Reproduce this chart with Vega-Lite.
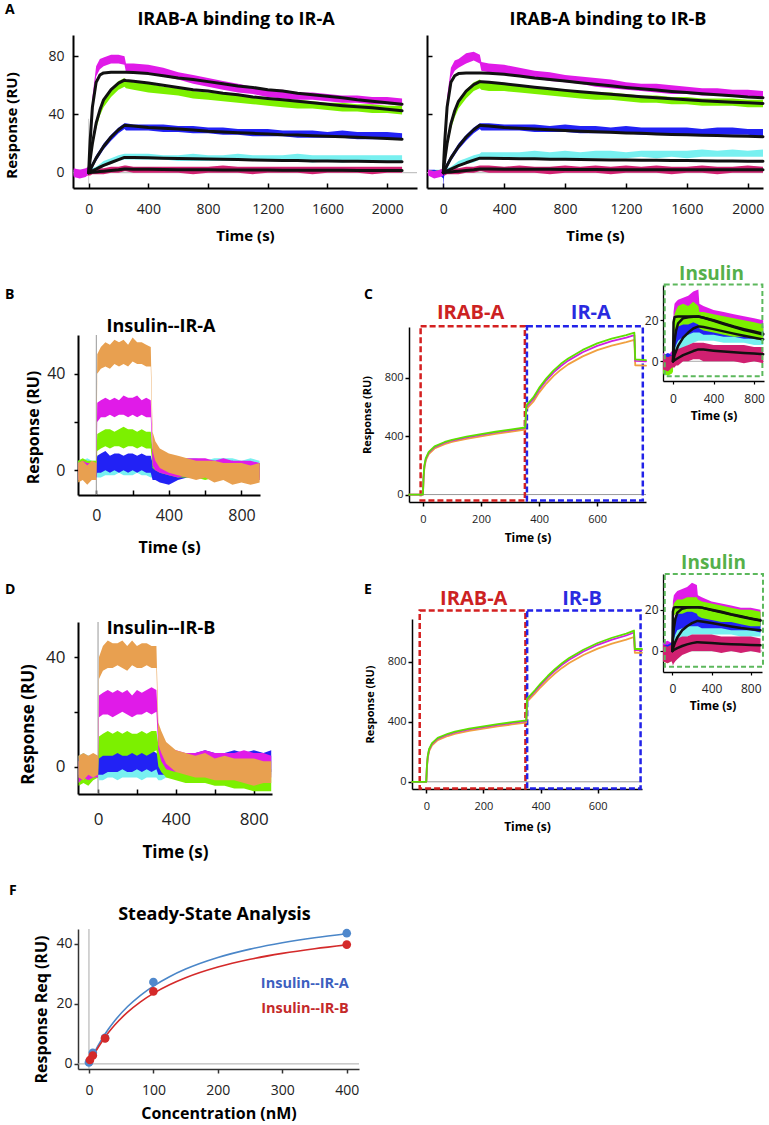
{
"$schema":"https://vega.github.io/schema/vega-lite/v6.json",
"background":"white",
"padding":{"left":4,"top":3,"right":0,"bottom":3},
"config":{
 "view":{"stroke":null},
 "font":"Open Sans",
 "axis":{"grid":false,"domainColor":"#000","tickColor":"#000","labelColor":"#222","titleColor":"#000","titleFontWeight":"bold","labelFont":"Open Sans","titleFont":"Open Sans","labelOverlap":false,"labelFlush":false,"domainWidth":1.5,"tickWidth":1.5},
 "title":{"font":"Open Sans","fontWeight":"bold","color":"#000"},
 "concat":{"spacing":0},
 "line":{"strokeJoin":"round","strokeCap":"round","invalid":"filter"}
},
"datasets":{
"aL":[
{"t":-100,"m0":-3,"m1":3,"g0":-2,"g1":2,"b0":-2,"b1":2,"c0":-2,"c1":2,"r0":-2,"r1":2},
{"t":-60,"m0":-4,"m1":2,"g0":-2,"g1":1,"b0":-2,"b1":1,"c0":-1,"c1":2,"r0":-2,"r1":2},
{"t":-20,"m0":-3,"m1":3,"g0":-2,"g1":2,"b0":-1,"b1":2,"c0":-2,"c1":2,"r0":-2,"r1":1},
{"t":0,"m0":-1,"m1":4,"mf":0,"g0":-1,"g1":2,"gf":0,"b0":-1,"b1":2,"bf":0,"c0":-1,"c1":2,"cf":0,"r0":-2,"r1":2,"rf":0},
{"t":5,"m0":8,"m1":16,"mf":12,"g0":3,"g1":7,"gf":4.5,"b0":0,"b1":3,"bf":1,"c0":-1,"c1":2,"cf":0.3,"r0":-2,"r1":2,"rf":0.05},
{"t":10,"m0":18,"m1":27,"mf":22,"g0":6,"g1":11,"gf":9,"b0":0,"b1":4,"bf":2,"c0":-1,"c1":2,"cf":0.5,"r0":-2,"r1":2,"rf":0.1},
{"t":25,"m0":44,"m1":52,"mf":45,"g0":17,"g1":23,"gf":20,"b0":3,"b1":7,"bf":5,"c0":0,"c1":3,"cf":1.3,"r0":-1,"r1":2,"rf":0.3},
{"t":50,"m0":66,"m1":73,"mf":62,"g0":30,"g1":36,"gf":34,"b0":8,"b1":12,"bf":10,"c0":1,"c1":4,"cf":2.5,"r0":-1,"r1":2,"rf":0.5},
{"t":75,"m0":71,"m1":78,"mf":67,"g0":39,"g1":45,"gf":43,"b0":12,"b1":16,"bf":14,"c0":2,"c1":6,"cf":3.8,"r0":-1,"r1":3,"rf":0.8},
{"t":100,"m0":73,"m1":79,"mf":68.5,"g0":45,"g1":51,"gf":50,"b0":16,"b1":20,"bf":18,"c0":4,"c1":8,"cf":5,"r0":-1,"r1":3,"rf":1},
{"t":150,"m0":75,"m1":81,"mf":69,"g0":52,"g1":58,"gf":57,"b0":22,"b1":26,"bf":24.5,"c0":6,"c1":10,"cf":7,"r0":0,"r1":4,"rf":1.5},
{"t":200,"m0":75,"m1":81,"mf":69,"g0":57,"g1":63,"gf":61.5,"b0":27,"b1":31,"bf":29.5,"c0":8,"c1":12,"cf":9,"r0":0,"r1":4,"rf":2},
{"t":240,"m0":74,"m1":80,"mf":69,"g0":59,"g1":65,"gf":63.5,"b0":30,"b1":34,"bf":32.5,"c0":9,"c1":13,"cf":10.5,"r0":1,"r1":5,"rf":2.5},
{"t":250,"m0":69,"m1":75,"mf":69,"g0":58,"g1":63,"gf":63.3,"b0":29,"b1":34,"bf":32.4,"c0":9,"c1":13,"cf":10.5,"r0":1,"r1":5,"rf":2.5},
{"t":300,"m0":69,"m1":75,"mf":68.7,"g0":57,"g1":62,"gf":62.8,"b0":29,"b1":33,"bf":32,"c0":9,"c1":13,"cf":10.4,"r0":0,"r1":4,"rf":2.4},
{"t":400,"m0":68,"m1":74,"mf":68,"g0":55,"g1":61,"gf":61.5,"b0":29,"b1":33,"bf":31,"c0":9,"c1":13,"cf":10.2,"r0":0,"r1":4,"rf":2.3},
{"t":500,"m0":66,"m1":72,"mf":66.5,"g0":54,"g1":59,"gf":60,"b0":28,"b1":33,"bf":30.5,"c0":9,"c1":12,"cf":10,"r0":0,"r1":4,"rf":2.2},
{"t":600,"m0":64,"m1":69,"mf":65,"g0":53,"g1":58,"gf":58.5,"b0":28,"b1":32,"bf":30,"c0":8,"c1":12,"cf":9.8,"r0":0,"r1":4,"rf":2.1},
{"t":700,"m0":61,"m1":67,"mf":64,"g0":51,"g1":56,"gf":57,"b0":27,"b1":32,"bf":29.3,"c0":8,"c1":13,"cf":9.6,"r0":-1,"r1":4,"rf":2},
{"t":800,"m0":59,"m1":65,"mf":62.5,"g0":50,"g1":55,"gf":56,"b0":27,"b1":31,"bf":28.5,"c0":8,"c1":12,"cf":9.4,"r0":0,"r1":4,"rf":2},
{"t":900,"m0":57,"m1":63,"mf":61,"g0":49,"g1":54,"gf":54.5,"b0":26,"b1":31,"bf":28,"c0":8,"c1":12,"cf":9.2,"r0":0,"r1":5,"rf":1.9},
{"t":1000,"m0":55,"m1":61,"mf":59.5,"g0":48,"g1":53,"gf":53.5,"b0":26,"b1":30,"bf":27.5,"c0":8,"c1":13,"cf":9,"r0":0,"r1":4,"rf":1.9},
{"t":1100,"m0":54,"m1":59,"mf":58.5,"g0":47,"g1":52,"gf":52,"b0":25,"b1":30,"bf":27,"c0":8,"c1":12,"cf":8.8,"r0":-1,"r1":4,"rf":1.8},
{"t":1200,"m0":52,"m1":57,"mf":57,"g0":46,"g1":51,"gf":51,"b0":25,"b1":30,"bf":26.5,"c0":8,"c1":12,"cf":8.6,"r0":0,"r1":4,"rf":1.8},
{"t":1300,"m0":51,"m1":57,"mf":56,"g0":45,"g1":50,"gf":50,"b0":25,"b1":29,"bf":26,"c0":8,"c1":12,"cf":8.4,"r0":0,"r1":4,"rf":1.7},
{"t":1400,"m0":50,"m1":55,"mf":54.5,"g0":44,"g1":50,"gf":49,"b0":24,"b1":29,"bf":25.8,"c0":8,"c1":13,"cf":8.3,"r0":0,"r1":4,"rf":1.7},
{"t":1500,"m0":50,"m1":55,"mf":53.5,"g0":44,"g1":49,"gf":48,"b0":24,"b1":29,"bf":25.4,"c0":7,"c1":12,"cf":8.1,"r0":-1,"r1":4,"rf":1.6},
{"t":1600,"m0":49,"m1":54,"mf":52.5,"g0":43,"g1":48,"gf":47,"b0":24,"b1":28,"bf":25,"c0":8,"c1":12,"cf":8,"r0":0,"r1":4,"rf":1.6},
{"t":1700,"m0":48,"m1":53,"mf":51.5,"g0":42,"g1":48,"gf":46,"b0":24,"b1":29,"bf":24.6,"c0":7,"c1":12,"cf":7.9,"r0":0,"r1":4,"rf":1.6},
{"t":1800,"m0":48,"m1":53,"mf":50,"g0":42,"g1":47,"gf":45.2,"b0":23,"b1":28,"bf":24.3,"c0":8,"c1":12,"cf":7.8,"r0":0,"r1":4,"rf":1.5},
{"t":1900,"m0":47,"m1":52,"mf":49,"g0":41,"g1":47,"gf":44.5,"b0":23,"b1":28,"bf":23.9,"c0":7,"c1":12,"cf":7.7,"r0":-1,"r1":4,"rf":1.5},
{"t":2000,"m0":47,"m1":52,"mf":48,"g0":41,"g1":46,"gf":43.5,"b0":23,"b1":28,"bf":23.5,"c0":8,"c1":12,"cf":7.6,"r0":0,"r1":4,"rf":1.5},
{"t":2100,"m0":46,"m1":51,"mf":47,"g0":40,"g1":46,"gf":42.5,"b0":23,"b1":27,"bf":23,"c0":7,"c1":12,"cf":7.5,"r0":0,"r1":4,"rf":1.5}
],
"aR":[
{"t":-100,"m0":-2,"m1":2,"g0":-2,"g1":2,"b0":-2,"b1":2,"c0":-2,"c1":1,"r0":-2,"r1":2},
{"t":-60,"m0":-4,"m1":1,"g0":-2,"g1":1,"b0":-2,"b1":2,"c0":-1,"c1":2,"r0":-2,"r1":1},
{"t":-20,"m0":-3,"m1":2,"g0":-1,"g1":2,"b0":-2,"b1":1,"c0":-2,"c1":2,"r0":-2,"r1":2},
{"t":0,"m0":-2,"m1":3,"mf":0,"g0":-1,"g1":2,"gf":0,"b0":-4,"b1":1,"bf":0,"c0":-1,"c1":2,"cf":0,"r0":-2,"r1":2,"rf":0},
{"t":2,"m0":2,"m1":8,"mf":5,"g0":0,"g1":4,"gf":1.8,"b0":-11,"b1":-2,"bf":0.4,"c0":-1,"c1":2,"cf":0.1,"r0":-2,"r1":2,"rf":0.02},
{"t":5,"m0":8,"m1":16,"mf":12,"g0":3,"g1":7,"gf":4.5,"b0":-3,"b1":3,"bf":1,"c0":-1,"c1":2,"cf":0.3,"r0":-2,"r1":2,"rf":0.05},
{"t":10,"m0":18,"m1":27,"mf":22,"g0":6,"g1":11,"gf":9,"b0":0,"b1":4,"bf":2,"c0":-1,"c1":2,"cf":0.5,"r0":-2,"r1":2,"rf":0.1},
{"t":25,"m0":44,"m1":52,"mf":45,"g0":17,"g1":23,"gf":20,"b0":3,"b1":7,"bf":5,"c0":0,"c1":3,"cf":1.3,"r0":-1,"r1":2,"rf":0.3},
{"t":50,"m0":65,"m1":72,"mf":62,"g0":30,"g1":36,"gf":33.5,"b0":8,"b1":12,"bf":10,"c0":1,"c1":4,"cf":2.5,"r0":-1,"r1":2,"rf":0.5},
{"t":75,"m0":70,"m1":77,"mf":66.5,"g0":38,"g1":44,"gf":42.5,"b0":12,"b1":16,"bf":14,"c0":2,"c1":6,"cf":3.7,"r0":-1,"r1":3,"rf":0.8},
{"t":100,"m0":72,"m1":78,"mf":68,"g0":44,"g1":50,"gf":49,"b0":16,"b1":20,"bf":18,"c0":4,"c1":8,"cf":4.8,"r0":-1,"r1":3,"rf":1},
{"t":150,"m0":75,"m1":82,"mf":68.5,"g0":51,"g1":57,"gf":56,"b0":22,"b1":26,"bf":24.5,"c0":6,"c1":10,"cf":6.8,"r0":0,"r1":4,"rf":1.5},
{"t":200,"m0":77,"m1":83,"mf":68.5,"g0":56,"g1":62,"gf":60.5,"b0":27,"b1":31,"bf":29.5,"c0":7,"c1":12,"cf":8.6,"r0":0,"r1":4,"rf":2},
{"t":240,"m0":75,"m1":81,"mf":68.5,"g0":58,"g1":64,"gf":62.5,"b0":30,"b1":34,"bf":32.5,"c0":9,"c1":13,"cf":10,"r0":1,"r1":5,"rf":2.5},
{"t":250,"m0":70,"m1":76,"mf":68.5,"g0":57,"g1":63,"gf":62.4,"b0":29,"b1":34,"bf":32.4,"c0":9,"c1":14,"cf":10,"r0":1,"r1":5,"rf":2.5},
{"t":300,"m0":69,"m1":75,"mf":68.3,"g0":56,"g1":62,"gf":62,"b0":29,"b1":34,"bf":32,"c0":9,"c1":14,"cf":9.9,"r0":0,"r1":5,"rf":2.5},
{"t":400,"m0":68,"m1":74,"mf":67.5,"g0":56,"g1":61,"gf":61,"b0":29,"b1":33,"bf":31,"c0":10,"c1":14,"cf":9.8,"r0":0,"r1":4,"rf":2.4},
{"t":500,"m0":66,"m1":72,"mf":66.3,"g0":55,"g1":60,"gf":59.8,"b0":29,"b1":33,"bf":30.5,"c0":10,"c1":14,"cf":9.6,"r0":0,"r1":5,"rf":2.4},
{"t":600,"m0":65,"m1":70,"mf":65,"g0":54,"g1":59,"gf":58.7,"b0":28,"b1":33,"bf":30,"c0":9,"c1":15,"cf":9.5,"r0":0,"r1":4,"rf":2.3},
{"t":700,"m0":63,"m1":69,"mf":64,"g0":53,"g1":58,"gf":57.6,"b0":28,"b1":32,"bf":29.5,"c0":10,"c1":14,"cf":9.3,"r0":-1,"r1":4,"rf":2.3},
{"t":800,"m0":62,"m1":67,"mf":63,"g0":52,"g1":57,"gf":56.5,"b0":28,"b1":33,"bf":29,"c0":10,"c1":15,"cf":9.2,"r0":0,"r1":5,"rf":2.2},
{"t":900,"m0":61,"m1":66,"mf":61.8,"g0":51,"g1":56,"gf":55.6,"b0":27,"b1":32,"bf":28.5,"c0":10,"c1":14,"cf":9.1,"r0":0,"r1":4,"rf":2.2},
{"t":1000,"m0":59,"m1":65,"mf":60.7,"g0":50,"g1":55,"gf":54.7,"b0":27,"b1":32,"bf":28.1,"c0":10,"c1":15,"cf":8.9,"r0":0,"r1":5,"rf":2.2},
{"t":1100,"m0":58,"m1":64,"mf":59.6,"g0":50,"g1":55,"gf":53.8,"b0":27,"b1":31,"bf":27.7,"c0":10,"c1":15,"cf":8.8,"r0":-1,"r1":4,"rf":2.1},
{"t":1200,"m0":57,"m1":62,"mf":58.5,"g0":49,"g1":54,"gf":53,"b0":27,"b1":32,"bf":27.3,"c0":10,"c1":14,"cf":8.7,"r0":0,"r1":5,"rf":2.1},
{"t":1300,"m0":56,"m1":61,"mf":57.6,"g0":48,"g1":53,"gf":52.2,"b0":26,"b1":31,"bf":27,"c0":11,"c1":15,"cf":8.6,"r0":0,"r1":4,"rf":2.1},
{"t":1400,"m0":55,"m1":61,"mf":56.7,"g0":48,"g1":53,"gf":51.4,"b0":26,"b1":31,"bf":26.6,"c0":10,"c1":15,"cf":8.5,"r0":0,"r1":5,"rf":2.1},
{"t":1500,"m0":54,"m1":60,"mf":55.8,"g0":47,"g1":52,"gf":50.7,"b0":26,"b1":31,"bf":26.3,"c0":11,"c1":15,"cf":8.4,"r0":-1,"r1":4,"rf":2.1},
{"t":1600,"m0":54,"m1":59,"mf":55,"g0":47,"g1":52,"gf":50,"b0":26,"b1":31,"bf":26,"c0":10,"c1":15,"cf":8.3,"r0":0,"r1":4,"rf":2},
{"t":1700,"m0":53,"m1":58,"mf":54.2,"g0":46,"g1":51,"gf":49.4,"b0":26,"b1":30,"bf":25.7,"c0":11,"c1":16,"cf":8.2,"r0":0,"r1":5,"rf":2},
{"t":1800,"m0":53,"m1":58,"mf":53.5,"g0":46,"g1":51,"gf":48.9,"b0":26,"b1":31,"bf":25.5,"c0":11,"c1":15,"cf":8.1,"r0":-1,"r1":4,"rf":2},
{"t":1900,"m0":52,"m1":57,"mf":52.8,"g0":46,"g1":51,"gf":48.4,"b0":26,"b1":31,"bf":25.2,"c0":11,"c1":16,"cf":8,"r0":0,"r1":4,"rf":2},
{"t":2000,"m0":52,"m1":57,"mf":52,"g0":45,"g1":50,"gf":48,"b0":26,"b1":30,"bf":25,"c0":11,"c1":15,"cf":7.9,"r0":0,"r1":5,"rf":2},
{"t":2100,"m0":51,"m1":56,"mf":51.5,"g0":45,"g1":50,"gf":47.5,"b0":25,"b1":30,"bf":24.7,"c0":11,"c1":16,"cf":7.8,"r0":0,"r1":4,"rf":2}
],
"bA":[
{"t":-100,"o0":-5,"o1":3,"m0":-4,"m1":3,"g0":-3,"g1":4,"b0":-4,"b1":3,"c0":-3,"c1":4},
{"t":-75,"o0":-4,"o1":4,"m0":-3,"m1":4,"g0":-2,"g1":5,"b0":-3,"b1":3,"c0":-2,"c1":4},
{"t":-50,"o0":-6,"o1":2,"m0":-4,"m1":3,"g0":-2,"g1":4,"b0":-4,"b1":2,"c0":-2,"c1":5},
{"t":-25,"o0":-4,"o1":4,"m0":-3,"m1":3,"g0":-3,"g1":4,"b0":-3,"b1":3,"c0":-3,"c1":4},
{"t":0,"o0":-4,"o1":3,"m0":-3,"m1":3,"g0":-2,"g1":4,"b0":-3,"b1":3,"c0":-2,"c1":4},
{"t":5,"o0":40,"o1":48,"m0":20,"m1":28,"g0":8,"g1":15,"b0":-1,"b1":6,"c0":-3,"c1":3},
{"t":25,"o0":42,"o1":51,"m0":22,"m1":29,"g0":9,"g1":16,"b0":-1,"b1":7,"c0":-3,"c1":4},
{"t":50,"o0":43,"o1":53,"m0":22,"m1":30,"g0":10,"g1":17,"b0":0,"b1":8,"c0":-2,"c1":4},
{"t":75,"o0":42,"o1":52,"m0":23,"m1":29,"g0":9,"g1":17,"b0":-1,"b1":6,"c0":-2,"c1":5},
{"t":100,"o0":44,"o1":54,"m0":22,"m1":30,"g0":10,"g1":16,"b0":0,"b1":7,"c0":-2,"c1":4},
{"t":125,"o0":43,"o1":53,"m0":23,"m1":29,"g0":10,"g1":17,"b0":-1,"b1":7,"c0":-1,"c1":5},
{"t":150,"o0":44,"o1":54,"m0":23,"m1":31,"g0":9,"g1":18,"b0":0,"b1":6,"c0":-2,"c1":4},
{"t":175,"o0":43,"o1":52,"m0":22,"m1":30,"g0":10,"g1":17,"b0":-1,"b1":7,"c0":-2,"c1":5},
{"t":200,"o0":45,"o1":55,"m0":23,"m1":30,"g0":10,"g1":17,"b0":0,"b1":7,"c0":-2,"c1":4},
{"t":225,"o0":44,"o1":53,"m0":22,"m1":31,"g0":9,"g1":16,"b0":-1,"b1":6,"c0":-1,"c1":5},
{"t":250,"o0":44,"o1":53,"m0":23,"m1":29,"g0":10,"g1":17,"b0":0,"b1":7,"c0":-2,"c1":4},
{"t":275,"o0":43,"o1":52,"m0":22,"m1":30,"g0":9,"g1":16,"b0":-1,"b1":6,"c0":-2,"c1":4},
{"t":300,"o0":43,"o1":51,"m0":22,"m1":29,"g0":9,"g1":16,"b0":-1,"b1":6,"c0":-3,"c1":4},
{"t":310,"o0":8,"o1":16,"m0":2,"m1":9,"g0":1,"g1":8,"b0":-4,"b1":3,"c0":-3,"c1":4},
{"t":325,"o0":4,"o1":12,"m0":0,"m1":7,"g0":0,"g1":7,"b0":-4,"b1":3,"c0":-3,"c1":4},
{"t":350,"o0":1,"o1":9,"m0":-1,"m1":6,"g0":-1,"g1":6,"b0":-5,"b1":2,"c0":-2,"c1":5},
{"t":400,"o0":-1,"o1":7,"m0":-2,"m1":5,"g0":-2,"g1":5,"b0":-6,"b1":2,"c0":-2,"c1":5},
{"t":450,"o0":-2,"o1":6,"m0":-3,"m1":5,"g0":-3,"g1":4,"b0":-4,"b1":3,"c0":-1,"c1":5},
{"t":500,"o0":-3,"o1":5,"m0":-2,"m1":5,"g0":-3,"g1":4,"b0":-3,"b1":4,"c0":-2,"c1":5},
{"t":550,"o0":-4,"o1":4,"m0":-3,"m1":5,"g0":-3,"g1":4,"b0":-3,"b1":3,"c0":-2,"c1":5},
{"t":600,"o0":-3,"o1":4,"m0":-2,"m1":5,"g0":-4,"g1":4,"b0":-3,"b1":4,"c0":-2,"c1":4},
{"t":650,"o0":-5,"o1":4,"m0":-3,"m1":4,"g0":-3,"g1":3,"b0":-3,"b1":4,"c0":-2,"c1":5},
{"t":700,"o0":-4,"o1":3,"m0":-2,"m1":5,"g0":-4,"g1":3,"b0":-4,"b1":3,"c0":-2,"c1":5},
{"t":750,"o0":-6,"o1":3,"m0":-3,"m1":4,"g0":-4,"g1":3,"b0":-3,"b1":4,"c0":-1,"c1":5},
{"t":800,"o0":-5,"o1":3,"m0":-3,"m1":4,"g0":-4,"g1":3,"b0":-4,"b1":3,"c0":-2,"c1":4},
{"t":850,"o0":-6,"o1":2,"m0":-3,"m1":4,"g0":-4,"g1":3,"b0":-3,"b1":3,"c0":-2,"c1":5},
{"t":900,"o0":-5,"o1":3,"m0":-4,"m1":3,"g0":-4,"g1":3,"b0":-3,"b1":3,"c0":-2,"c1":4}
],
"dB":[
{"t":-100,"o0":-4,"o1":4,"m0":-6,"m1":2,"g0":-7,"g1":2,"b0":-4,"b1":3,"c0":-3,"c1":4},
{"t":-75,"o0":-5,"o1":5,"m0":-4,"m1":3,"g0":-6,"g1":2,"b0":-3,"b1":3,"c0":-3,"c1":5},
{"t":-50,"o0":-3,"o1":4,"m0":-5,"m1":3,"g0":-7,"g1":1,"b0":-4,"b1":4,"c0":-2,"c1":4},
{"t":-25,"o0":-4,"o1":5,"m0":-4,"m1":3,"g0":-5,"g1":2,"b0":-3,"b1":3,"c0":-3,"c1":4},
{"t":0,"o0":-3,"o1":4,"m0":-4,"m1":3,"g0":-4,"g1":3,"b0":-3,"b1":3,"c0":-3,"c1":4},
{"t":5,"o0":32,"o1":40,"m0":18,"m1":26,"g0":3,"g1":11,"b0":-3,"b1":4,"c0":-5,"c1":1},
{"t":25,"o0":35,"o1":44,"m0":19,"m1":27,"g0":4,"g1":12,"b0":-3,"b1":5,"c0":-5,"c1":2},
{"t":50,"o0":36,"o1":46,"m0":19,"m1":28,"g0":4,"g1":13,"b0":-2,"b1":5,"c0":-4,"c1":2},
{"t":75,"o0":36,"o1":45,"m0":18,"m1":27,"g0":4,"g1":12,"b0":-2,"b1":6,"c0":-4,"c1":2},
{"t":100,"o0":37,"o1":45,"m0":19,"m1":28,"g0":5,"g1":13,"b0":-2,"b1":6,"c0":-5,"c1":1},
{"t":125,"o0":36,"o1":46,"m0":20,"m1":27,"g0":4,"g1":12,"b0":-1,"b1":5,"c0":-4,"c1":2},
{"t":150,"o0":35,"o1":44,"m0":19,"m1":28,"g0":4,"g1":13,"b0":-2,"b1":6,"c0":-4,"c1":2},
{"t":175,"o0":37,"o1":46,"m0":18,"m1":26,"g0":5,"g1":12,"b0":-2,"b1":5,"c0":-4,"c1":1},
{"t":200,"o0":36,"o1":44,"m0":19,"m1":28,"g0":4,"g1":12,"b0":-1,"b1":6,"c0":-4,"c1":2},
{"t":225,"o0":36,"o1":45,"m0":19,"m1":27,"g0":5,"g1":13,"b0":-2,"b1":6,"c0":-5,"c1":2},
{"t":250,"o0":37,"o1":45,"m0":20,"m1":28,"g0":4,"g1":12,"b0":-1,"b1":5,"c0":-4,"c1":2},
{"t":275,"o0":36,"o1":44,"m0":19,"m1":29,"g0":5,"g1":13,"b0":-2,"b1":6,"c0":-4,"c1":2},
{"t":300,"o0":36,"o1":44,"m0":20,"m1":28,"g0":6,"g1":13,"b0":-1,"b1":5,"c0":-4,"c1":2},
{"t":310,"o0":8,"o1":16,"m0":6,"m1":14,"g0":0,"g1":8,"b0":-3,"b1":4,"c0":-5,"c1":2},
{"t":325,"o0":5,"o1":13,"m0":2,"m1":10,"g0":-2,"g1":6,"b0":-3,"b1":4,"c0":-5,"c1":2},
{"t":350,"o0":1,"o1":9,"m0":-1,"m1":7,"g0":-4,"g1":4,"b0":-3,"b1":4,"c0":-4,"c1":3},
{"t":400,"o0":-2,"o1":6,"m0":-2,"m1":6,"g0":-5,"g1":3,"b0":-3,"b1":5,"c0":-3,"c1":4},
{"t":450,"o0":-3,"o1":5,"m0":-2,"m1":5,"g0":-6,"g1":2,"b0":-2,"b1":5,"c0":-3,"c1":4},
{"t":500,"o0":-4,"o1":4,"m0":-3,"m1":5,"g0":-6,"g1":2,"b0":-2,"b1":5,"c0":-3,"c1":4},
{"t":550,"o0":-4,"o1":5,"m0":-2,"m1":6,"g0":-6,"g1":1,"b0":-2,"b1":6,"c0":-3,"c1":4},
{"t":600,"o0":-5,"o1":3,"m0":-3,"m1":5,"g0":-7,"g1":1,"b0":-3,"b1":5,"c0":-2,"c1":5},
{"t":650,"o0":-5,"o1":4,"m0":-3,"m1":5,"g0":-7,"g1":0,"b0":-2,"b1":5,"c0":-3,"c1":4},
{"t":700,"o0":-5,"o1":3,"m0":-3,"m1":5,"g0":-8,"g1":0,"b0":-2,"b1":6,"c0":-2,"c1":5},
{"t":750,"o0":-6,"o1":3,"m0":-3,"m1":6,"g0":-8,"g1":-1,"b0":-2,"b1":5,"c0":-3,"c1":4},
{"t":800,"o0":-7,"o1":3,"m0":-2,"m1":5,"g0":-9,"g1":-1,"b0":-2,"b1":6,"c0":-2,"c1":5},
{"t":850,"o0":-6,"o1":2,"m0":-3,"m1":5,"g0":-9,"g1":-2,"b0":-2,"b1":5,"c0":-3,"c1":4},
{"t":890,"o0":-6,"o1":2,"m0":-4,"m1":4,"g0":-9,"g1":-1,"b0":-2,"b1":6,"c0":-3,"c1":4}
],
"cM":[
{"t":-48,"g":0,"m":0,"o":0},{"t":0,"g":0,"m":0,"o":0},{"t":2,"g":120,"m":115,"o":105},{"t":5,"g":200,"m":195,"o":185},{"t":10,"g":250,"m":245,"o":235},{"t":20,"g":292,"m":287,"o":277},{"t":40,"g":330,"m":325,"o":315},{"t":75,"g":360,"m":355,"o":345},{"t":100,"g":375,"m":370,"o":360},{"t":150,"g":396,"m":391,"o":381},{"t":200,"g":414,"m":409,"o":399},{"t":250,"g":430,"m":425,"o":415},{"t":300,"g":445,"m":440,"o":430},{"t":352,"g":459,"m":454,"o":444},{"t":356,"g":610,"m":600,"o":585},{"t":380,"g":665,"m":654,"o":636},{"t":400,"g":730,"m":718,"o":698},{"t":425,"g":795,"m":782,"o":760},{"t":450,"g":850,"m":836,"o":812},{"t":475,"g":895,"m":880,"o":855},{"t":500,"g":932,"m":917,"o":891},{"t":550,"g":990,"m":974,"o":946},{"t":600,"g":1035,"m":1018,"o":989},{"t":650,"g":1067,"m":1050,"o":1020},{"t":700,"g":1092,"m":1075,"o":1044},{"t":728,"g":1108,"m":1091,"o":1059},{"t":731,"g":925,"m":915,"o":885},{"t":768,"g":920,"m":912,"o":882}
],
"eM":[
{"t":-50,"g":0,"m":0,"o":0},{"t":0,"g":0,"m":0,"o":0},{"t":2,"g":100,"m":95,"o":88},{"t":5,"g":170,"m":165,"o":155},{"t":10,"g":220,"m":215,"o":205},{"t":20,"g":258,"m":253,"o":243},{"t":40,"g":293,"m":288,"o":278},{"t":75,"g":320,"m":315,"o":305},{"t":100,"g":334,"m":329,"o":319},{"t":150,"g":354,"m":349,"o":339},{"t":200,"g":370,"m":365,"o":355},{"t":250,"g":384,"m":379,"o":369},{"t":300,"g":397,"m":392,"o":382},{"t":350,"g":410,"m":405,"o":395},{"t":353,"g":555,"m":548,"o":535},{"t":380,"g":610,"m":602,"o":588},{"t":400,"g":655,"m":646,"o":630},{"t":425,"g":705,"m":696,"o":678},{"t":450,"g":750,"m":740,"o":721},{"t":475,"g":790,"m":780,"o":759},{"t":500,"g":825,"m":814,"o":792},{"t":550,"g":880,"m":868,"o":845},{"t":600,"g":925,"m":913,"o":888},{"t":650,"g":960,"m":947,"o":921},{"t":700,"g":988,"m":975,"o":948},{"t":727,"g":1008,"m":995,"o":965},{"t":730,"g":885,"m":878,"o":860},{"t":755,"g":885,"m":878,"o":860}
],
"cI":[
{"t":-99,"m0":-4,"m1":4,"g0":-6,"g1":0,"b0":-3,"b1":3,"c0":-3,"c1":2,"r0":-4,"r1":3},
{"t":-50,"m0":-5,"m1":3,"g0":-7,"g1":-1,"b0":-3,"b1":4,"c0":-2,"c1":3,"r0":-5,"r1":2},
{"t":-10,"m0":-3,"m1":5,"g0":-6,"g1":1,"b0":-2,"b1":3,"c0":-3,"c1":3,"r0":-3,"r1":3},
{"t":0,"m0":-2,"m1":6,"g0":-5,"g1":2,"b0":-2,"b1":4,"c0":-2,"c1":3,"r0":-3,"r1":3,"f1":0,"f2":0,"f3":0,"f4":0},
{"t":5,"m0":15,"m1":24,"g0":10,"g1":19,"b0":2,"b1":10,"c0":0,"c1":5,"r0":-3,"r1":4,"f1":19,"f2":4,"f3":1,"f4":0.2},
{"t":15,"m0":19,"m1":28,"g0":14,"g1":23,"b0":6,"b1":14,"c0":1,"c1":7,"r0":-3,"r1":5,"f1":21.5,"f2":10,"f3":3,"f4":0.5},
{"t":30,"m0":20,"m1":29,"g0":16,"g1":25,"b0":8,"b1":17,"c0":2,"c1":9,"r0":-2,"r1":5,"f1":21.7,"f2":15,"f3":5,"f4":1},
{"t":50,"m0":20,"m1":30,"g0":17,"g1":27,"b0":10,"b1":19,"c0":3,"c1":11,"r0":-2,"r1":6,"f1":21.8,"f2":18.5,"f3":7.5,"f4":1.6},
{"t":100,"m0":21,"m1":31,"g0":18,"g1":28,"b0":12,"b1":21,"c0":6,"c1":14,"r0":0,"r1":7,"f1":21.8,"f2":21,"f3":11.5,"f4":3},
{"t":150,"m0":22,"m1":32,"g0":18,"g1":27,"b0":13,"b1":22,"c0":8,"c1":15,"r0":0,"r1":8,"f1":21.8,"f2":21.5,"f3":14,"f4":4},
{"t":200,"m0":23,"m1":34,"g0":19,"g1":29,"b0":14,"b1":22,"c0":9,"c1":16,"r0":1,"r1":9,"f1":21.8,"f2":21.7,"f3":16,"f4":5},
{"t":250,"m0":24,"m1":35,"g0":18,"g1":27,"b0":14,"b1":21,"c0":10,"c1":17,"r0":1,"r1":9,"f1":21.8,"f2":21.8,"f3":17,"f4":5.8},
{"t":260,"m0":19,"m1":28,"g0":16,"g1":24,"b0":14,"b1":21,"c0":10,"c1":17,"r0":1,"r1":9,"f1":21.7,"f2":21.7,"f3":17,"f4":5.8},
{"t":300,"m0":18,"m1":27,"g0":15,"g1":24,"b0":13,"b1":21,"c0":10,"c1":17,"r0":0,"r1":9,"f1":21.3,"f2":21.2,"f3":16.7,"f4":5.7},
{"t":400,"m0":17,"m1":25,"g0":14,"g1":23,"b0":13,"b1":20,"c0":10,"c1":16,"r0":0,"r1":8,"f1":20,"f2":19.8,"f3":15.7,"f4":5.2},
{"t":500,"m0":16,"m1":24,"g0":13,"g1":22,"b0":12,"b1":20,"c0":9,"c1":16,"r0":0,"r1":8,"f1":18.5,"f2":18.2,"f3":14.6,"f4":4.8},
{"t":600,"m0":15,"m1":23,"g0":12,"g1":21,"b0":12,"b1":19,"c0":9,"c1":16,"r0":0,"r1":8,"f1":17,"f2":16.7,"f3":13.5,"f4":4.4},
{"t":700,"m0":14,"m1":22,"g0":12,"g1":20,"b0":11,"b1":18,"c0":9,"c1":15,"r0":-1,"r1":8,"f1":15.7,"f2":15.3,"f3":12.5,"f4":4.1},
{"t":800,"m0":13,"m1":21,"g0":11,"g1":19,"b0":11,"b1":18,"c0":8,"c1":15,"r0":0,"r1":7,"f1":14.5,"f2":14.1,"f3":11.5,"f4":3.8},
{"t":890,"m0":12,"m1":20,"g0":10,"g1":18,"b0":10,"b1":17,"c0":8,"c1":14,"r0":-1,"r1":7,"f1":13.5,"f2":13.1,"f3":10.7,"f4":3.5}
],
"eI":[
{"t":-96,"m0":-4,"m1":4,"g0":-5,"g1":1,"b0":-4,"b1":3,"c0":-3,"c1":2,"r0":-5,"r1":3},
{"t":-50,"m0":-3,"m1":5,"g0":-6,"g1":0,"b0":-3,"b1":3,"c0":-3,"c1":3,"r0":-6,"r1":2},
{"t":-10,"m0":-4,"m1":4,"g0":-5,"g1":2,"b0":-3,"b1":4,"c0":-2,"c1":3,"r0":-5,"r1":3},
{"t":0,"m0":-3,"m1":5,"g0":-4,"g1":2,"b0":-3,"b1":3,"c0":-3,"c1":3,"r0":-6,"r1":2,"f1":0,"f2":0,"f3":0,"f4":0},
{"t":5,"m0":14,"m1":24,"g0":14,"g1":21,"b0":2,"b1":11,"c0":-1,"c1":5,"r0":-7,"r1":3,"f1":19,"f2":5,"f3":1,"f4":0.2},
{"t":15,"m0":17,"m1":27,"g0":17,"g1":23,"b0":6,"b1":15,"c0":0,"c1":7,"r0":-6,"r1":4,"f1":21,"f2":11,"f3":2.5,"f4":0.5},
{"t":30,"m0":18,"m1":28,"g0":18,"g1":24,"b0":8,"b1":17,"c0":1,"c1":9,"r0":-5,"r1":5,"f1":21.2,"f2":15.5,"f3":4.5,"f4":0.9},
{"t":50,"m0":18,"m1":29,"g0":18,"g1":25,"b0":10,"b1":19,"c0":3,"c1":11,"r0":-4,"r1":6,"f1":21.2,"f2":18.5,"f3":6.5,"f4":1.4},
{"t":100,"m0":19,"m1":30,"g0":18,"g1":25,"b0":11,"b1":20,"c0":5,"c1":13,"r0":-2,"r1":7,"f1":21.2,"f2":20.5,"f3":10,"f4":2.4},
{"t":150,"m0":20,"m1":31,"g0":19,"g1":26,"b0":12,"b1":20,"c0":7,"c1":14,"r0":-1,"r1":7,"f1":21.2,"f2":21,"f3":12,"f4":3.2},
{"t":200,"m0":21,"m1":33,"g0":19,"g1":26,"b0":12,"b1":21,"c0":8,"c1":15,"r0":0,"r1":8,"f1":21.2,"f2":21.2,"f3":13.5,"f4":3.8},
{"t":250,"m0":20,"m1":32,"g0":18,"g1":26,"b0":12,"b1":20,"c0":8,"c1":16,"r0":0,"r1":8,"f1":21.2,"f2":21.2,"f3":14.5,"f4":4.2},
{"t":260,"m0":17,"m1":27,"g0":17,"g1":25,"b0":12,"b1":19,"c0":8,"c1":15,"r0":0,"r1":8,"f1":21.2,"f2":21.2,"f3":14.5,"f4":4.2},
{"t":300,"m0":16,"m1":26,"g0":16,"g1":24,"b0":11,"b1":19,"c0":8,"c1":15,"r0":0,"r1":8,"f1":21,"f2":21,"f3":14.3,"f4":4.1},
{"t":400,"m0":15,"m1":24,"g0":15,"g1":23,"b0":11,"b1":18,"c0":8,"c1":15,"r0":0,"r1":8,"f1":20,"f2":19.8,"f3":13.5,"f4":3.8},
{"t":500,"m0":14,"m1":23,"g0":14,"g1":22,"b0":11,"b1":18,"c0":8,"c1":14,"r0":-1,"r1":7,"f1":19,"f2":18.8,"f3":12.7,"f4":3.5},
{"t":600,"m0":13,"m1":22,"g0":14,"g1":21,"b0":10,"b1":17,"c0":8,"c1":14,"r0":0,"r1":7,"f1":17.8,"f2":17.6,"f3":11.9,"f4":3.3},
{"t":700,"m0":13,"m1":21,"g0":13,"g1":20,"b0":10,"b1":17,"c0":7,"c1":14,"r0":-1,"r1":7,"f1":16.8,"f2":16.6,"f3":11.1,"f4":3.1},
{"t":800,"m0":12,"m1":21,"g0":12,"g1":20,"b0":10,"b1":16,"c0":7,"c1":13,"r0":0,"r1":7,"f1":15.8,"f2":15.6,"f3":10.5,"f4":2.9},
{"t":900,"m0":12,"m1":20,"g0":12,"g1":19,"b0":9,"b1":16,"c0":7,"c1":13,"r0":-1,"r1":6,"f1":14.9,"f2":14.7,"f3":10,"f4":2.8}
],
"fP":[
{"c":0,"r":0.5,"s":"A"},{"c":6,"r":3.7,"s":"A"},{"c":25,"r":8.7,"s":"A"},{"c":100,"r":27.3,"s":"A"},{"c":400,"r":43.6,"s":"A"},
{"c":1.5,"r":1.3,"s":"B"},{"c":6,"r":2.8,"s":"B"},{"c":25,"r":8.5,"s":"B"},{"c":100,"r":24.2,"s":"B"},{"c":400,"r":39.8,"s":"B"}
],
"fF":[
{"c":0,"ra":0,"rb":0},{"c":5,"ra":2.32,"rb":2.08},{"c":10,"ra":4.46,"rb":3.99},{"c":20,"ra":8.26,"rb":7.41},{"c":30,"ra":11.54,"rb":10.37},{"c":40,"ra":14.4,"rb":12.96},{"c":60,"ra":19.13,"rb":17.26},{"c":80,"ra":22.9,"rb":20.7},{"c":100,"ra":25.97,"rb":23.52},{"c":125,"ra":29.09,"rb":26.38},{"c":150,"ra":31.63,"rb":28.72},{"c":200,"ra":35.49,"rb":32.29},{"c":250,"ra":38.29,"rb":34.89},{"c":300,"ra":40.42,"rb":36.87},{"c":350,"ra":42.1,"rb":38.43},{"c":400,"ra":43.44,"rb":39.69}
]
},
"bounds":"flush",
"spacing":0,
"vconcat":[
{"hconcat":[
 {"width":344,"height":153,
  "title":{"text":"IRAB-A binding to IR-A","fontSize":18,"frame":"group","dx":-9,"offset":6},
  "data":{"name":"aL"},
  "layer":[
   {"data":{"values":[{}]},"mark":{"type":"rule","color":"#b5b5b5","strokeWidth":1},"encoding":{"y":{"datum":0,"type":"quantitative","scale":{"domain":[-10.5,94.5],"nice":false,"zero":false},"title":"Response (RU)"}}},
   {"data":{"values":[{}]},"mark":{"type":"rule","color":"#cccccc","strokeWidth":1},"encoding":{"x":{"datum":0,"type":"quantitative","scale":{"domain":[-105,2200],"nice":false,"zero":false},"title":"Time (s)"},"y":{"datum":-8,"type":"quantitative","scale":{"domain":[-10.5,94.5],"nice":false,"zero":false},"title":"Response (RU)"},"y2":{"datum":37}}},
   {"mark":{"type":"area","color":"#78f0f0"},"encoding":{"x":{"field":"t","type":"quantitative","scale":{"domain":[-105,2200],"nice":false,"zero":false},"title":"Time (s)","axis":{"values":[0,200,400,600,800,1000,1200,1400,1600,1800,2000],"labelExpr":"datum.value % 400 === 0 ? datum.label : ''","format":"d","labelFontSize":14,"titleFontSize":15,"tickSize":-5,"domainWidth":2,"labelPadding":19,"titlePadding":12}},"y":{"field":"c0","type":"quantitative","scale":{"domain":[-10.5,94.5],"nice":false,"zero":false},"title":"Response (RU)","axis":{"values":[0,20,40,60,80],"labelExpr":"datum.value % 40 === 0 ? datum.label : ''","labelFontSize":14,"titleFontSize":15,"tickSize":-5,"domainWidth":2,"labelPadding":14,"titlePadding":28,"titleY":90}},"y2":{"field":"c1"}}},
   {"mark":{"type":"area","color":"#d02070"},"encoding":{"x":{"field":"t","type":"quantitative","scale":{"domain":[-105,2200],"nice":false,"zero":false},"title":"Time (s)"},"y":{"field":"r0","type":"quantitative","scale":{"domain":[-10.5,94.5],"nice":false,"zero":false},"title":"Response (RU)"},"y2":{"field":"r1"}}},
   {"mark":{"type":"area","color":"#2222f5"},"encoding":{"x":{"field":"t","type":"quantitative","scale":{"domain":[-105,2200],"nice":false,"zero":false},"title":"Time (s)"},"y":{"field":"b0","type":"quantitative","scale":{"domain":[-10.5,94.5],"nice":false,"zero":false},"title":"Response (RU)"},"y2":{"field":"b1"}}},
   {"mark":{"type":"area","color":"#7cf000"},"encoding":{"x":{"field":"t","type":"quantitative","scale":{"domain":[-105,2200],"nice":false,"zero":false},"title":"Time (s)"},"y":{"field":"g0","type":"quantitative","scale":{"domain":[-10.5,94.5],"nice":false,"zero":false},"title":"Response (RU)"},"y2":{"field":"g1"}}},
   {"mark":{"type":"area","color":"#e01be8"},"encoding":{"x":{"field":"t","type":"quantitative","scale":{"domain":[-105,2200],"nice":false,"zero":false},"title":"Time (s)"},"y":{"field":"m0","type":"quantitative","scale":{"domain":[-10.5,94.5],"nice":false,"zero":false},"title":"Response (RU)"},"y2":{"field":"m1"}}},
   {"mark":{"type":"line","color":"#111","strokeWidth":3,"invalid":"filter"},"encoding":{"x":{"field":"t","type":"quantitative","scale":{"domain":[-105,2200],"nice":false,"zero":false},"title":"Time (s)"},"y":{"field":"rf","type":"quantitative","scale":{"domain":[-10.5,94.5],"nice":false,"zero":false},"title":"Response (RU)"}}},
   {"mark":{"type":"line","color":"#111","strokeWidth":3,"invalid":"filter"},"encoding":{"x":{"field":"t","type":"quantitative","scale":{"domain":[-105,2200],"nice":false,"zero":false},"title":"Time (s)"},"y":{"field":"cf","type":"quantitative","scale":{"domain":[-10.5,94.5],"nice":false,"zero":false},"title":"Response (RU)"}}},
   {"mark":{"type":"line","color":"#111","strokeWidth":3,"invalid":"filter"},"encoding":{"x":{"field":"t","type":"quantitative","scale":{"domain":[-105,2200],"nice":false,"zero":false},"title":"Time (s)"},"y":{"field":"bf","type":"quantitative","scale":{"domain":[-10.5,94.5],"nice":false,"zero":false},"title":"Response (RU)"}}},
   {"mark":{"type":"line","color":"#111","strokeWidth":3,"invalid":"filter"},"encoding":{"x":{"field":"t","type":"quantitative","scale":{"domain":[-105,2200],"nice":false,"zero":false},"title":"Time (s)"},"y":{"field":"gf","type":"quantitative","scale":{"domain":[-10.5,94.5],"nice":false,"zero":false},"title":"Response (RU)"}}},
   {"mark":{"type":"line","color":"#111","strokeWidth":3,"invalid":"filter"},"encoding":{"x":{"field":"t","type":"quantitative","scale":{"domain":[-105,2200],"nice":false,"zero":false},"title":"Time (s)"},"y":{"field":"mf","type":"quantitative","scale":{"domain":[-10.5,94.5],"nice":false,"zero":false},"title":"Response (RU)"}}}
  ]},
 {"width":336,"height":153,
  "title":{"text":"IRAB-A binding to IR-B","fontSize":18,"frame":"group","dx":13,"offset":6},
  "data":{"name":"aR"},
  "layer":[
   {"data":{"values":[{}]},"mark":{"type":"rule","color":"#b5b5b5","strokeWidth":1},"encoding":{"y":{"datum":0,"type":"quantitative","scale":{"domain":[-10.5,94.5],"nice":false,"zero":false},"title":null}}},
   {"mark":{"type":"area","color":"#78f0f0"},"encoding":{"x":{"field":"t","type":"quantitative","scale":{"domain":[-107,2100],"nice":false,"zero":false},"title":"Time (s)","axis":{"values":[0,200,400,600,800,1000,1200,1400,1600,1800,2000],"labelExpr":"datum.value % 400 === 0 ? datum.label : ''","format":"d","labelFontSize":14,"titleFontSize":15,"tickSize":-5,"domainWidth":2,"labelPadding":19,"titlePadding":12}},"y":{"field":"c0","type":"quantitative","scale":{"domain":[-10.5,94.5],"nice":false,"zero":false},"title":null,"axis":{"values":[0,20,40,60,80],"labels":false,"tickSize":-5,"domainWidth":2}},"y2":{"field":"c1"}}},
   {"mark":{"type":"area","color":"#d02070"},"encoding":{"x":{"field":"t","type":"quantitative","scale":{"domain":[-107,2100],"nice":false,"zero":false},"title":"Time (s)"},"y":{"field":"r0","type":"quantitative","scale":{"domain":[-10.5,94.5],"nice":false,"zero":false},"title":null},"y2":{"field":"r1"}}},
   {"mark":{"type":"area","color":"#2222f5"},"encoding":{"x":{"field":"t","type":"quantitative","scale":{"domain":[-107,2100],"nice":false,"zero":false},"title":"Time (s)"},"y":{"field":"b0","type":"quantitative","scale":{"domain":[-10.5,94.5],"nice":false,"zero":false},"title":null},"y2":{"field":"b1"}}},
   {"mark":{"type":"area","color":"#7cf000"},"encoding":{"x":{"field":"t","type":"quantitative","scale":{"domain":[-107,2100],"nice":false,"zero":false},"title":"Time (s)"},"y":{"field":"g0","type":"quantitative","scale":{"domain":[-10.5,94.5],"nice":false,"zero":false},"title":null},"y2":{"field":"g1"}}},
   {"mark":{"type":"area","color":"#e01be8"},"encoding":{"x":{"field":"t","type":"quantitative","scale":{"domain":[-107,2100],"nice":false,"zero":false},"title":"Time (s)"},"y":{"field":"m0","type":"quantitative","scale":{"domain":[-10.5,94.5],"nice":false,"zero":false},"title":null},"y2":{"field":"m1"}}},
   {"mark":{"type":"line","color":"#111","strokeWidth":3,"invalid":"filter"},"encoding":{"x":{"field":"t","type":"quantitative","scale":{"domain":[-107,2100],"nice":false,"zero":false},"title":"Time (s)"},"y":{"field":"rf","type":"quantitative","scale":{"domain":[-10.5,94.5],"nice":false,"zero":false},"title":null}}},
   {"mark":{"type":"line","color":"#111","strokeWidth":3,"invalid":"filter"},"encoding":{"x":{"field":"t","type":"quantitative","scale":{"domain":[-107,2100],"nice":false,"zero":false},"title":"Time (s)"},"y":{"field":"cf","type":"quantitative","scale":{"domain":[-10.5,94.5],"nice":false,"zero":false},"title":null}}},
   {"mark":{"type":"line","color":"#111","strokeWidth":3,"invalid":"filter"},"encoding":{"x":{"field":"t","type":"quantitative","scale":{"domain":[-107,2100],"nice":false,"zero":false},"title":"Time (s)"},"y":{"field":"bf","type":"quantitative","scale":{"domain":[-10.5,94.5],"nice":false,"zero":false},"title":null}}},
   {"mark":{"type":"line","color":"#111","strokeWidth":3,"invalid":"filter"},"encoding":{"x":{"field":"t","type":"quantitative","scale":{"domain":[-107,2100],"nice":false,"zero":false},"title":"Time (s)"},"y":{"field":"gf","type":"quantitative","scale":{"domain":[-10.5,94.5],"nice":false,"zero":false},"title":null}}},
   {"mark":{"type":"line","color":"#111","strokeWidth":3,"invalid":"filter"},"encoding":{"x":{"field":"t","type":"quantitative","scale":{"domain":[-107,2100],"nice":false,"zero":false},"title":"Time (s)"},"y":{"field":"mf","type":"quantitative","scale":{"domain":[-10.5,94.5],"nice":false,"zero":false},"title":null}}}
  ]}
 ],
 "spacing":10,"bounds":"flush"
},
{"width":1,"height":250,"title":{"text":"A","anchor":"start","frame":"group","fontSize":14,"offset":18,"dx":-68},"data":{"values":[{}]},"mark":{"type":"text"},"encoding":{"text":{"value":""}}},
{"hconcat":[
 {"width":5,"height":1,"data":{"values":[{}]},"mark":{"type":"text"},"encoding":{"text":{"value":""}}},
 {"vconcat":[
   {"width":182,"height":50,"title":{"text":"B","anchor":"start","frame":"group","fontSize":14,"offset":-17,"dx":-73},"data":{"values":[{}]},"mark":{"type":"text"},"encoding":{"text":{"value":""}}},
   {"width":182,"height":160,
    "title":{"text":"Insulin--IR-A","fontSize":18,"frame":"group","dx":-8,"offset":-1},
    "data":{"name":"bA"},
    "layer":[
     {"data":{"values":[{}]},"mark":{"type":"rule","color":"#999","strokeWidth":1},"encoding":{"x":{"datum":0,"type":"quantitative","scale":{"domain":[-101,902],"nice":false,"zero":false},"title":"Time (s)"}}},
     {"mark":{"type":"area","color":"#78f0f0"},"encoding":{"x":{"field":"t","type":"quantitative","scale":{"domain":[-101,902],"nice":false,"zero":false},"title":"Time (s)","axis":{"values":[0,200,400,600,800],"labelExpr":"datum.value % 400 === 0 ? datum.label : ''","labelFontSize":16,"titleFontSize":16,"tickSize":-5,"domainWidth":2,"labelPadding":17,"titlePadding":16}},"y":{"field":"c0","type":"quantitative","scale":{"domain":[-10.2,56],"nice":false,"zero":false},"title":"Response (RU)","axis":{"values":[0,20,40],"labelExpr":"datum.value % 40 === 0 ? datum.label : ''","labelFontSize":16,"titleFontSize":16,"tickSize":4,"domainWidth":2,"labelPadding":9,"titlePadding":5,"titleY":92}},"y2":{"field":"c1"}}},
     {"mark":{"type":"area","color":"#2222f5"},"encoding":{"x":{"field":"t","type":"quantitative","scale":{"domain":[-101,902],"nice":false,"zero":false},"title":"Time (s)"},"y":{"field":"b0","type":"quantitative","scale":{"domain":[-10.2,56],"nice":false,"zero":false},"title":"Response (RU)"},"y2":{"field":"b1"}}},
     {"mark":{"type":"area","color":"#7cf000"},"encoding":{"x":{"field":"t","type":"quantitative","scale":{"domain":[-101,902],"nice":false,"zero":false},"title":"Time (s)"},"y":{"field":"g0","type":"quantitative","scale":{"domain":[-10.2,56],"nice":false,"zero":false},"title":"Response (RU)"},"y2":{"field":"g1"}}},
     {"mark":{"type":"area","color":"#e01be8"},"encoding":{"x":{"field":"t","type":"quantitative","scale":{"domain":[-101,902],"nice":false,"zero":false},"title":"Time (s)"},"y":{"field":"m0","type":"quantitative","scale":{"domain":[-10.2,56],"nice":false,"zero":false},"title":"Response (RU)"},"y2":{"field":"m1"}}},
     {"mark":{"type":"area","color":"#e8a050"},"encoding":{"x":{"field":"t","type":"quantitative","scale":{"domain":[-101,902],"nice":false,"zero":false},"title":"Time (s)"},"y":{"field":"o0","type":"quantitative","scale":{"domain":[-10.2,56],"nice":false,"zero":false},"title":"Response (RU)"},"y2":{"field":"o1"}}}
    ]},
   {"width":194,"height":127,"title":{"text":"D","anchor":"start","frame":"group","fontSize":14,"offset":-102,"dx":-73},"data":{"values":[{}]},"mark":{"type":"text"},"encoding":{"text":{"value":""}}},
   {"width":194,"height":172,
    "title":{"text":"Insulin--IR-B","fontSize":18,"frame":"group","dx":-14,"offset":-16},
    "data":{"name":"dB"},
    "layer":[
     {"data":{"values":[{}]},"mark":{"type":"rule","color":"#999","strokeWidth":1},"encoding":{"x":{"datum":0,"type":"quantitative","scale":{"domain":[-103,894],"nice":false,"zero":false},"title":"Time (s)"}}},
     {"mark":{"type":"area","color":"#78f0f0"},"encoding":{"x":{"field":"t","type":"quantitative","scale":{"domain":[-103,894],"nice":false,"zero":false},"title":"Time (s)","axis":{"values":[0,200,400,600,800],"labelExpr":"datum.value % 400 === 0 ? datum.label : ''","labelFontSize":17,"titleFontSize":17,"tickSize":-5,"domainWidth":2,"labelPadding":22,"titlePadding":17}},"y":{"field":"c0","type":"quantitative","scale":{"domain":[-10,52.8],"nice":false,"zero":false},"title":"Response (RU)","axis":{"values":[0,20,40],"labelExpr":"datum.value % 40 === 0 ? datum.label : ''","labelFontSize":17,"titleFontSize":17,"tickSize":4,"domainWidth":2,"labelPadding":9,"titlePadding":8,"titleY":102}},"y2":{"field":"c1"}}},
     {"mark":{"type":"area","color":"#2222f5"},"encoding":{"x":{"field":"t","type":"quantitative","scale":{"domain":[-103,894],"nice":false,"zero":false},"title":"Time (s)"},"y":{"field":"b0","type":"quantitative","scale":{"domain":[-10,52.8],"nice":false,"zero":false},"title":"Response (RU)"},"y2":{"field":"b1"}}},
     {"mark":{"type":"area","color":"#7cf000"},"encoding":{"x":{"field":"t","type":"quantitative","scale":{"domain":[-103,894],"nice":false,"zero":false},"title":"Time (s)"},"y":{"field":"g0","type":"quantitative","scale":{"domain":[-10,52.8],"nice":false,"zero":false},"title":"Response (RU)"},"y2":{"field":"g1"}}},
     {"mark":{"type":"area","color":"#e01be8"},"encoding":{"x":{"field":"t","type":"quantitative","scale":{"domain":[-103,894],"nice":false,"zero":false},"title":"Time (s)"},"y":{"field":"m0","type":"quantitative","scale":{"domain":[-10,52.8],"nice":false,"zero":false},"title":"Response (RU)"},"y2":{"field":"m1"}}},
     {"mark":{"type":"area","color":"#e8a050"},"encoding":{"x":{"field":"t","type":"quantitative","scale":{"domain":[-103,894],"nice":false,"zero":false},"title":"Time (s)"},"y":{"field":"o0","type":"quantitative","scale":{"domain":[-10,52.8],"nice":false,"zero":false},"title":"Response (RU)"},"y2":{"field":"o1"}}}
    ]},
   {"width":281,"height":135,"title":{"text":"F","anchor":"start","frame":"group","fontSize":14,"offset":-104,"dx":-69},"data":{"values":[{}]},"mark":{"type":"text"},"encoding":{"text":{"value":""}}},
   {"width":281,"height":140,
    "title":{"text":"Steady-State Analysis","fontSize":18,"frame":"group","dx":-4,"offset":5},
    "layer":[
     {"data":{"values":[{}]},"mark":{"type":"rule","color":"#aaa","strokeWidth":1},"encoding":{"x":{"datum":0,"type":"quantitative","scale":{"domain":[-17,419],"nice":false,"zero":false},"title":"Concentration (nM)"}}},
     {"data":{"values":[{}]},"mark":{"type":"rule","color":"#aaa","strokeWidth":1},"encoding":{"y":{"datum":0,"type":"quantitative","scale":{"domain":[-1.7,45],"nice":false,"zero":false},"title":"Response Req (RU)"}}},
     {"data":{"name":"fF"},"mark":{"type":"line","color":"#4a86c8","strokeWidth":1.6,"interpolate":"monotone"},"encoding":{"x":{"field":"c","type":"quantitative","scale":{"domain":[-17,419],"nice":false,"zero":false},"title":"Concentration (nM)","axis":{"values":[0,50,100,150,200,250,300,350,400],"labelExpr":"datum.value % 100 === 0 ? datum.label : ''","labelFontSize":14,"titleFontSize":16,"tickSize":4,"domainColor":"#333","tickColor":"#333","labelPadding":10,"titlePadding":8}},"y":{"field":"ra","type":"quantitative","scale":{"domain":[-1.7,45],"nice":false,"zero":false},"title":"Response Req (RU)","axis":{"values":[0,10,20,30,40],"labelExpr":"datum.value % 20 === 0 ? datum.label : ''","labelFontSize":14,"titleFontSize":16,"tickSize":4,"domainColor":"#333","tickColor":"#333","labelPadding":2,"titlePadding":6,"titleY":80}}}},
     {"data":{"name":"fF"},"mark":{"type":"line","color":"#d42a2a","strokeWidth":1.6,"interpolate":"monotone"},"encoding":{"x":{"field":"c","type":"quantitative","scale":{"domain":[-17,419],"nice":false,"zero":false},"title":"Concentration (nM)"},"y":{"field":"rb","type":"quantitative","scale":{"domain":[-1.7,45],"nice":false,"zero":false},"title":"Response Req (RU)"}}},
     {"data":{"name":"fP"},"mark":{"type":"circle","size":75,"opacity":1},"encoding":{"x":{"field":"c","type":"quantitative","scale":{"domain":[-17,419],"nice":false,"zero":false},"title":"Concentration (nM)"},"y":{"field":"r","type":"quantitative","scale":{"domain":[-1.7,45],"nice":false,"zero":false},"title":"Response Req (RU)"},"color":{"field":"s","type":"nominal","scale":{"domain":["A","B"],"range":["#4f88cc","#d42a2a"]},"legend":null}}},
     {"data":{"values":[{"x":403,"y":26.7,"label":"Insulin--IR-A"}]},"mark":{"type":"text","align":"right","baseline":"middle","fontSize":14.5,"fontWeight":"bold","color":"#3d5fbf"},"encoding":{"x":{"field":"x","type":"quantitative","scale":{"domain":[-17,419],"nice":false,"zero":false},"title":"Concentration (nM)"},"y":{"field":"y","type":"quantitative","scale":{"domain":[-1.7,45],"nice":false,"zero":false},"title":"Response Req (RU)"},"text":{"field":"label"}}},
     {"data":{"values":[{"x":403,"y":18.3,"label":"Insulin--IR-B"}]},"mark":{"type":"text","align":"right","baseline":"middle","fontSize":14.5,"fontWeight":"bold","color":"#c42a2a"},"encoding":{"x":{"field":"x","type":"quantitative","scale":{"domain":[-17,419],"nice":false,"zero":false},"title":"Concentration (nM)"},"y":{"field":"y","type":"quantitative","scale":{"domain":[-1.7,45],"nice":false,"zero":false},"title":"Response Req (RU)"},"text":{"field":"label"}}}
    ]}
 ],"spacing":0,"bounds":"flush"},
 {"width":331,"height":1,"data":{"values":[{}]},"mark":{"type":"text"},"encoding":{"text":{"value":""}}},
 {"vconcat":[
   {"hconcat":[
     {"vconcat":[
       {"width":237,"height":42,"title":{"text":"C","anchor":"start","frame":"group","fontSize":14,"offset":-17,"dx":-45},"data":{"values":[{}]},"mark":{"type":"text"},"encoding":{"text":{"value":""}}},
       {"width":237,"height":175,
        "data":{"name":"cM"},
        "layer":[
         {"data":{"values":[{}]},"mark":{"type":"rule","color":"#999","strokeWidth":1},"encoding":{"y":{"datum":0,"type":"quantitative","scale":{"domain":[-51,1147],"nice":false,"zero":false},"title":"Response (RU)"}}},
         {"data":{"values":[{"x0":-8,"x1":351,"y0":-41,"y1":1152}]},"mark":{"type":"rect","fill":"transparent","stroke":"#d42020","strokeWidth":2.5,"strokeDash":[6,3]},"encoding":{"x":{"field":"x0","type":"quantitative","scale":{"domain":[-48,768],"nice":false,"zero":false},"title":"Time (s)"},"x2":{"field":"x1"},"y":{"field":"y0","type":"quantitative","scale":{"domain":[-51,1147],"nice":false,"zero":false},"title":"Response (RU)"},"y2":{"field":"y1"}}},
         {"data":{"values":[{"x0":358,"x1":757,"y0":-41,"y1":1152}]},"mark":{"type":"rect","fill":"transparent","stroke":"#2222e8","strokeWidth":2.5,"strokeDash":[6,3]},"encoding":{"x":{"field":"x0","type":"quantitative","scale":{"domain":[-48,768],"nice":false,"zero":false},"title":"Time (s)"},"x2":{"field":"x1"},"y":{"field":"y0","type":"quantitative","scale":{"domain":[-51,1147],"nice":false,"zero":false},"title":"Response (RU)"},"y2":{"field":"y1"}}},
         {"mark":{"type":"line","color":"#f0a040","strokeWidth":1.8},"encoding":{"x":{"field":"t","type":"quantitative","scale":{"domain":[-48,768],"nice":false,"zero":false},"title":"Time (s)","axis":{"values":[0,100,200,300,400,500,600,700],"labelExpr":"datum.value % 200 === 0 ? datum.label : ''","labelFontSize":11,"titleFontSize":12,"tickSize":4,"labelPadding":7,"titlePadding":8}},"y":{"field":"o","type":"quantitative","scale":{"domain":[-51,1147],"nice":false,"zero":false},"title":"Response (RU)","axis":{"values":[0,200,400,600,800,1000],"labelExpr":"datum.value % 400 === 0 ? datum.label : ''","labelFontSize":11,"titleFontSize":11,"tickSize":4,"labelPadding":2,"titlePadding":12}}}},
         {"mark":{"type":"line","color":"#d020e0","strokeWidth":1.8},"encoding":{"x":{"field":"t","type":"quantitative","scale":{"domain":[-48,768],"nice":false,"zero":false},"title":"Time (s)"},"y":{"field":"m","type":"quantitative","scale":{"domain":[-51,1147],"nice":false,"zero":false},"title":"Response (RU)"}}},
         {"mark":{"type":"line","color":"#5ce000","strokeWidth":1.8},"encoding":{"x":{"field":"t","type":"quantitative","scale":{"domain":[-48,768],"nice":false,"zero":false},"title":"Time (s)"},"y":{"field":"g","type":"quantitative","scale":{"domain":[-51,1147],"nice":false,"zero":false},"title":"Response (RU)"}}},
         {"data":{"values":[{"x":164,"y":1243,"label":"IRAB-A"}]},"mark":{"type":"text","color":"#cc2222","fontSize":20,"fontWeight":"bold","baseline":"middle"},"encoding":{"x":{"field":"x","type":"quantitative","scale":{"domain":[-48,768],"nice":false,"zero":false},"title":"Time (s)"},"y":{"field":"y","type":"quantitative","scale":{"domain":[-51,1147],"nice":false,"zero":false},"title":"Response (RU)"},"text":{"field":"label"}}},
         {"data":{"values":[{"x":578,"y":1243,"label":"IR-A"}]},"mark":{"type":"text","color":"#2a2ae0","fontSize":20,"fontWeight":"bold","baseline":"middle"},"encoding":{"x":{"field":"x","type":"quantitative","scale":{"domain":[-48,768],"nice":false,"zero":false},"title":"Time (s)"},"y":{"field":"y","type":"quantitative","scale":{"domain":[-51,1147],"nice":false,"zero":false},"title":"Response (RU)"},"text":{"field":"label"}}}
        ]}
     ],"spacing":0,"bounds":"flush"},
     {"width":254,"height":1,"data":{"values":[{}]},"mark":{"type":"text"},"encoding":{"text":{"value":""}}},
     {"width":101,"height":96,
      "title":{"text":"Insulin","fontSize":19,"color":"#55b04a","frame":"group","dx":-2,"offset":0},
      "data":{"name":"cI"},
      "layer":[
       {"mark":{"type":"area","color":"#e01be8"},"encoding":{"x":{"field":"t","type":"quantitative","scale":{"domain":[-99,898],"nice":false,"zero":false},"title":"Time (s)","axis":{"values":[0,200,400,600,800],"labelExpr":"datum.value % 400 === 0 ? datum.label : ''","labelFontSize":12,"titleFontSize":12,"tickSize":3,"domainWidth":1.3,"tickWidth":1.2,"labelPadding":9,"titlePadding":6}},"y":{"field":"m0","type":"quantitative","scale":{"domain":[-9.6,37.2],"nice":false,"zero":false},"title":null,"axis":{"values":[0,20],"title":null,"format":"d","labelFontSize":12,"tickSize":3,"domainWidth":1.3,"tickWidth":1.2,"labelPadding":2,"labelOverlap":false}},"y2":{"field":"m1"}}},
       {"data":{"values":[{}]},"mark":{"type":"rule","color":"#aaa","strokeWidth":1},"encoding":{"y":{"datum":0,"type":"quantitative","scale":{"domain":[-9.6,37.2],"nice":false,"zero":false},"title":null}}},
       {"mark":{"type":"area","color":"#78f0f0"},"encoding":{"x":{"field":"t","type":"quantitative","scale":{"domain":[-99,898],"nice":false,"zero":false},"title":"Time (s)"},"y":{"field":"c0","type":"quantitative","scale":{"domain":[-9.6,37.2],"nice":false,"zero":false},"title":null},"y2":{"field":"c1"}}},
       {"mark":{"type":"area","color":"#2222f5"},"encoding":{"x":{"field":"t","type":"quantitative","scale":{"domain":[-99,898],"nice":false,"zero":false},"title":"Time (s)"},"y":{"field":"b0","type":"quantitative","scale":{"domain":[-9.6,37.2],"nice":false,"zero":false},"title":null},"y2":{"field":"b1"}}},
       {"mark":{"type":"area","color":"#7cf000"},"encoding":{"x":{"field":"t","type":"quantitative","scale":{"domain":[-99,898],"nice":false,"zero":false},"title":"Time (s)"},"y":{"field":"g0","type":"quantitative","scale":{"domain":[-9.6,37.2],"nice":false,"zero":false},"title":null},"y2":{"field":"g1"}}},
       {"mark":{"type":"area","color":"#d02070"},"encoding":{"x":{"field":"t","type":"quantitative","scale":{"domain":[-99,898],"nice":false,"zero":false},"title":"Time (s)"},"y":{"field":"r0","type":"quantitative","scale":{"domain":[-9.6,37.2],"nice":false,"zero":false},"title":null},"y2":{"field":"r1"}}},
       {"mark":{"type":"line","color":"#111","strokeWidth":2.5,"invalid":"filter"},"encoding":{"x":{"field":"t","type":"quantitative","scale":{"domain":[-99,898],"nice":false,"zero":false},"title":"Time (s)"},"y":{"field":"f4","type":"quantitative","scale":{"domain":[-9.6,37.2],"nice":false,"zero":false},"title":null}}},
       {"mark":{"type":"line","color":"#111","strokeWidth":2.5,"invalid":"filter"},"encoding":{"x":{"field":"t","type":"quantitative","scale":{"domain":[-99,898],"nice":false,"zero":false},"title":"Time (s)"},"y":{"field":"f3","type":"quantitative","scale":{"domain":[-9.6,37.2],"nice":false,"zero":false},"title":null}}},
       {"mark":{"type":"line","color":"#111","strokeWidth":2.5,"invalid":"filter"},"encoding":{"x":{"field":"t","type":"quantitative","scale":{"domain":[-99,898],"nice":false,"zero":false},"title":"Time (s)"},"y":{"field":"f2","type":"quantitative","scale":{"domain":[-9.6,37.2],"nice":false,"zero":false},"title":null}}},
       {"mark":{"type":"line","color":"#111","strokeWidth":2.5,"invalid":"filter"},"encoding":{"x":{"field":"t","type":"quantitative","scale":{"domain":[-99,898],"nice":false,"zero":false},"title":"Time (s)"},"y":{"field":"f1","type":"quantitative","scale":{"domain":[-9.6,37.2],"nice":false,"zero":false},"title":null}}},
       {"data":{"values":[{"x0":-82,"x1":882,"y0":-7.3,"y1":37.4}]},"mark":{"type":"rect","fill":"transparent","stroke":"#5cb85c","strokeWidth":2,"strokeDash":[5,3]},"encoding":{"x":{"field":"x0","type":"quantitative","scale":{"domain":[-99,898],"nice":false,"zero":false},"title":"Time (s)"},"x2":{"field":"x1"},"y":{"field":"y0","type":"quantitative","scale":{"domain":[-9.6,37.2],"nice":false,"zero":false},"title":null},"y2":{"field":"y1"}}}
      ]}
   ],"spacing":0,"bounds":"flush"},
   {"width":1,"height":289,"data":{"values":[{}]},"mark":{"type":"text"},"encoding":{"text":{"value":""}}},
   {"hconcat":[
     {"width":3,"height":1,"data":{"values":[{}]},"mark":{"type":"text"},"encoding":{"text":{"value":""}}},
     {"vconcat":[
       {"width":230,"height":45,"title":{"text":"E","anchor":"start","frame":"group","fontSize":14,"offset":-23,"dx":-48},"data":{"values":[{}]},"mark":{"type":"text"},"encoding":{"text":{"value":""}}},
       {"width":230,"height":170,
        "data":{"name":"eM"},
        "layer":[
         {"data":{"values":[{}]},"mark":{"type":"rule","color":"#999","strokeWidth":1},"encoding":{"y":{"datum":0,"type":"quantitative","scale":{"domain":[-48,1085],"nice":false,"zero":false},"title":"Response (RU)"}}},
         {"data":{"values":[{"x0":-23,"x1":347,"y0":-45,"y1":1141}]},"mark":{"type":"rect","fill":"transparent","stroke":"#d42020","strokeWidth":2.5,"strokeDash":[6,3]},"encoding":{"x":{"field":"x0","type":"quantitative","scale":{"domain":[-50,755],"nice":false,"zero":false},"title":"Time (s)"},"x2":{"field":"x1"},"y":{"field":"y0","type":"quantitative","scale":{"domain":[-48,1085],"nice":false,"zero":false},"title":"Response (RU)"},"y2":{"field":"y1"}}},
         {"data":{"values":[{"x0":353,"x1":750,"y0":-45,"y1":1141}]},"mark":{"type":"rect","fill":"transparent","stroke":"#2222e8","strokeWidth":2.5,"strokeDash":[6,3]},"encoding":{"x":{"field":"x0","type":"quantitative","scale":{"domain":[-50,755],"nice":false,"zero":false},"title":"Time (s)"},"x2":{"field":"x1"},"y":{"field":"y0","type":"quantitative","scale":{"domain":[-48,1085],"nice":false,"zero":false},"title":"Response (RU)"},"y2":{"field":"y1"}}},
         {"mark":{"type":"line","color":"#f0a040","strokeWidth":1.8},"encoding":{"x":{"field":"t","type":"quantitative","scale":{"domain":[-50,755],"nice":false,"zero":false},"title":"Time (s)","axis":{"values":[0,100,200,300,400,500,600,700],"labelExpr":"datum.value % 200 === 0 ? datum.label : ''","labelFontSize":11,"titleFontSize":12,"tickSize":4,"labelPadding":7,"titlePadding":10}},"y":{"field":"o","type":"quantitative","scale":{"domain":[-48,1085],"nice":false,"zero":false},"title":"Response (RU)","axis":{"values":[0,200,400,600,800,1000],"labelExpr":"datum.value % 400 === 0 ? datum.label : ''","labelFontSize":11,"titleFontSize":11,"tickSize":4,"labelPadding":2,"titlePadding":12}}}},
         {"mark":{"type":"line","color":"#d020e0","strokeWidth":1.8},"encoding":{"x":{"field":"t","type":"quantitative","scale":{"domain":[-50,755],"nice":false,"zero":false},"title":"Time (s)"},"y":{"field":"m","type":"quantitative","scale":{"domain":[-48,1085],"nice":false,"zero":false},"title":"Response (RU)"}}},
         {"mark":{"type":"line","color":"#5ce000","strokeWidth":1.8},"encoding":{"x":{"field":"t","type":"quantitative","scale":{"domain":[-50,755],"nice":false,"zero":false},"title":"Time (s)"},"y":{"field":"g","type":"quantitative","scale":{"domain":[-48,1085],"nice":false,"zero":false},"title":"Response (RU)"}}},
         {"data":{"values":[{"x":166,"y":1219,"label":"IRAB-A"}]},"mark":{"type":"text","color":"#cc2222","fontSize":20,"fontWeight":"bold","baseline":"middle"},"encoding":{"x":{"field":"x","type":"quantitative","scale":{"domain":[-50,755],"nice":false,"zero":false},"title":"Time (s)"},"y":{"field":"y","type":"quantitative","scale":{"domain":[-48,1085],"nice":false,"zero":false},"title":"Response (RU)"},"text":{"field":"label"}}},
         {"data":{"values":[{"x":545,"y":1219,"label":"IR-B"}]},"mark":{"type":"text","color":"#2a2ae0","fontSize":20,"fontWeight":"bold","baseline":"middle"},"encoding":{"x":{"field":"x","type":"quantitative","scale":{"domain":[-50,755],"nice":false,"zero":false},"title":"Time (s)"},"y":{"field":"y","type":"quantitative","scale":{"domain":[-48,1085],"nice":false,"zero":false},"title":"Response (RU)"},"text":{"field":"label"}}}
        ]}
     ],"spacing":0,"bounds":"flush"},
     {"width":251,"height":1,"data":{"values":[{}]},"mark":{"type":"text"},"encoding":{"text":{"value":""}}},
     {"width":99,"height":98,
      "title":{"text":"Insulin","fontSize":19,"color":"#55b04a","frame":"group","dx":1,"offset":0},
      "data":{"name":"eI"},
      "layer":[
       {"mark":{"type":"area","color":"#e01be8"},"encoding":{"x":{"field":"t","type":"quantitative","scale":{"domain":[-96,915],"nice":false,"zero":false},"title":"Time (s)","axis":{"values":[0,200,400,600,800],"labelExpr":"datum.value % 400 === 0 ? datum.label : ''","labelFontSize":12,"titleFontSize":12,"tickSize":3,"domainWidth":1.3,"tickWidth":1.2,"labelPadding":8,"titlePadding":6}},"y":{"field":"m0","type":"quantitative","scale":{"domain":[-10.2,37.3],"nice":false,"zero":false},"title":null,"axis":{"values":[0,20],"title":null,"format":"d","labelFontSize":12,"tickSize":3,"domainWidth":1.3,"tickWidth":1.2,"labelPadding":2,"labelOverlap":false}},"y2":{"field":"m1"}}},
       {"data":{"values":[{}]},"mark":{"type":"rule","color":"#aaa","strokeWidth":1},"encoding":{"y":{"datum":0,"type":"quantitative","scale":{"domain":[-10.2,37.3],"nice":false,"zero":false},"title":null}}},
       {"mark":{"type":"area","color":"#78f0f0"},"encoding":{"x":{"field":"t","type":"quantitative","scale":{"domain":[-96,915],"nice":false,"zero":false},"title":"Time (s)"},"y":{"field":"c0","type":"quantitative","scale":{"domain":[-10.2,37.3],"nice":false,"zero":false},"title":null},"y2":{"field":"c1"}}},
       {"mark":{"type":"area","color":"#2222f5"},"encoding":{"x":{"field":"t","type":"quantitative","scale":{"domain":[-96,915],"nice":false,"zero":false},"title":"Time (s)"},"y":{"field":"b0","type":"quantitative","scale":{"domain":[-10.2,37.3],"nice":false,"zero":false},"title":null},"y2":{"field":"b1"}}},
       {"mark":{"type":"area","color":"#7cf000"},"encoding":{"x":{"field":"t","type":"quantitative","scale":{"domain":[-96,915],"nice":false,"zero":false},"title":"Time (s)"},"y":{"field":"g0","type":"quantitative","scale":{"domain":[-10.2,37.3],"nice":false,"zero":false},"title":null},"y2":{"field":"g1"}}},
       {"mark":{"type":"area","color":"#d02070"},"encoding":{"x":{"field":"t","type":"quantitative","scale":{"domain":[-96,915],"nice":false,"zero":false},"title":"Time (s)"},"y":{"field":"r0","type":"quantitative","scale":{"domain":[-10.2,37.3],"nice":false,"zero":false},"title":null},"y2":{"field":"r1"}}},
       {"mark":{"type":"line","color":"#111","strokeWidth":2.5,"invalid":"filter"},"encoding":{"x":{"field":"t","type":"quantitative","scale":{"domain":[-96,915],"nice":false,"zero":false},"title":"Time (s)"},"y":{"field":"f4","type":"quantitative","scale":{"domain":[-10.2,37.3],"nice":false,"zero":false},"title":null}}},
       {"mark":{"type":"line","color":"#111","strokeWidth":2.5,"invalid":"filter"},"encoding":{"x":{"field":"t","type":"quantitative","scale":{"domain":[-96,915],"nice":false,"zero":false},"title":"Time (s)"},"y":{"field":"f3","type":"quantitative","scale":{"domain":[-10.2,37.3],"nice":false,"zero":false},"title":null}}},
       {"mark":{"type":"line","color":"#111","strokeWidth":2.5,"invalid":"filter"},"encoding":{"x":{"field":"t","type":"quantitative","scale":{"domain":[-96,915],"nice":false,"zero":false},"title":"Time (s)"},"y":{"field":"f2","type":"quantitative","scale":{"domain":[-10.2,37.3],"nice":false,"zero":false},"title":null}}},
       {"mark":{"type":"line","color":"#111","strokeWidth":2.5,"invalid":"filter"},"encoding":{"x":{"field":"t","type":"quantitative","scale":{"domain":[-96,915],"nice":false,"zero":false},"title":"Time (s)"},"y":{"field":"f1","type":"quantitative","scale":{"domain":[-10.2,37.3],"nice":false,"zero":false},"title":null}}},
       {"data":{"values":[{"x0":-78,"x1":925,"y0":-7.7,"y1":37.3}]},"mark":{"type":"rect","fill":"transparent","stroke":"#5cb85c","strokeWidth":2,"strokeDash":[5,3]},"encoding":{"x":{"field":"x0","type":"quantitative","scale":{"domain":[-96,915],"nice":false,"zero":false},"title":"Time (s)"},"x2":{"field":"x1"},"y":{"field":"y0","type":"quantitative","scale":{"domain":[-10.2,37.3],"nice":false,"zero":false},"title":null},"y2":{"field":"y1"}}}
      ]}
   ],"spacing":0,"bounds":"flush"}
 ],"spacing":0,"bounds":"flush"}
],"spacing":0,"bounds":"flush"}
]
}
